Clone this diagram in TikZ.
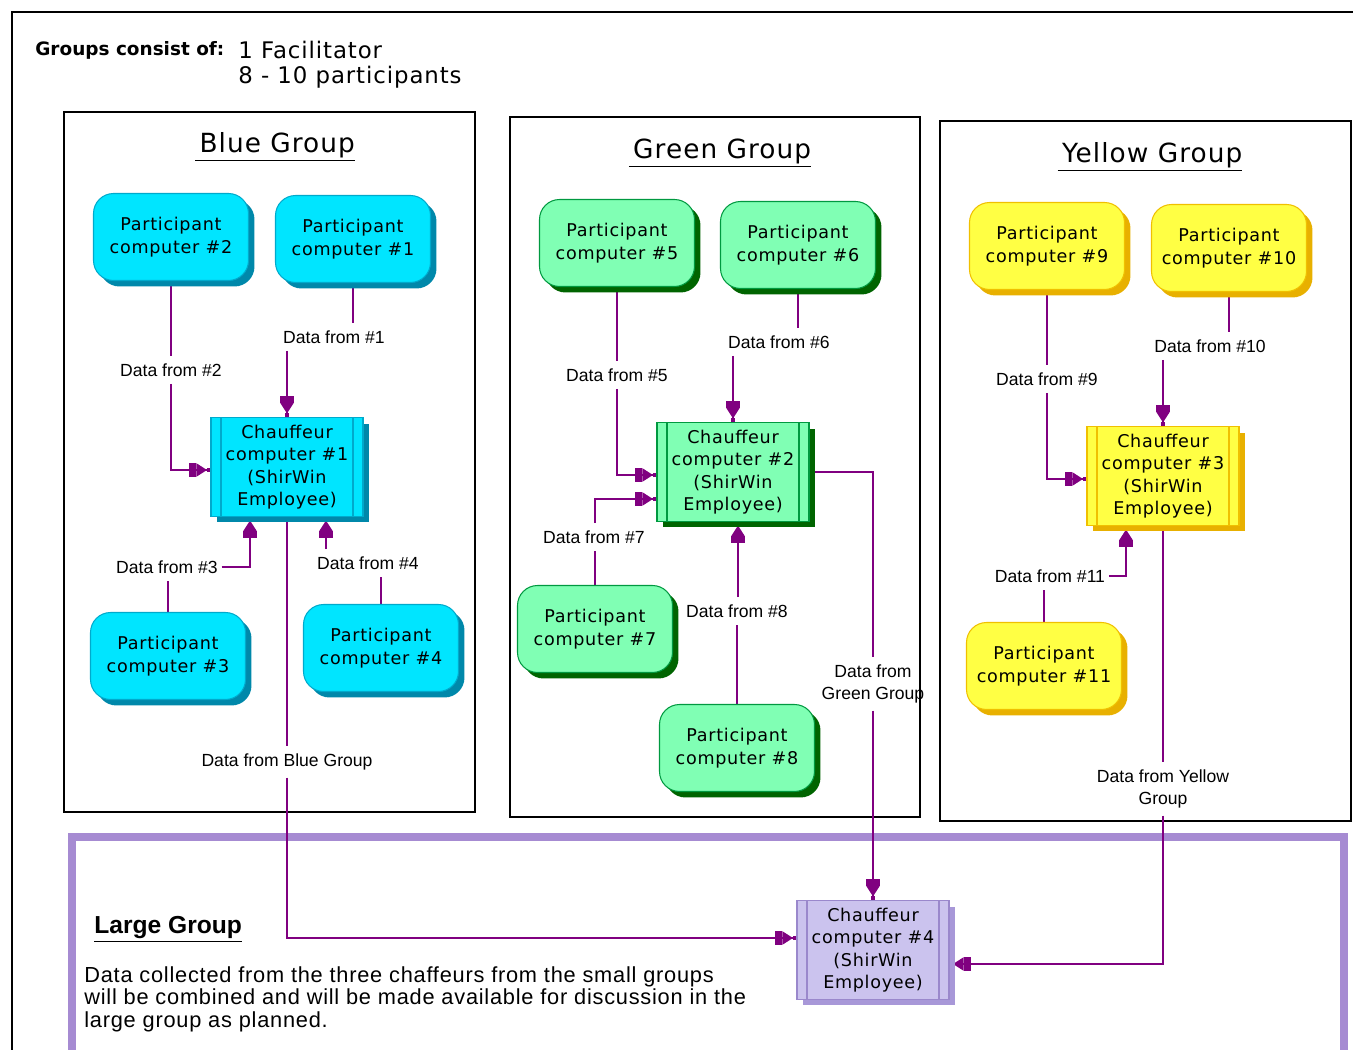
\documentclass[tikz,border=0pt]{standalone}
\usepackage{fontspec}
\setmainfont{DejaVu Sans}
\newfontfamily\boxfont[LetterSpace=4]{DejaVu Sans}
\newfontfamily\labfont{Liberation Sans}
\newfontfamily\parfont[LetterSpace=3.5]{Liberation Sans}
\usetikzlibrary{arrows.meta,shadows,backgrounds}
\definecolor{cblue}{HTML}{00E5FF}
\definecolor{cblueb}{HTML}{00AACC}
\definecolor{cblues}{HTML}{0088AA}
\definecolor{cgreen}{HTML}{80FFB4}
\definecolor{cgreenb}{HTML}{009940}
\definecolor{cgreens}{HTML}{006400}
\definecolor{cyel}{HTML}{FFFF44}
\definecolor{cyelb}{HTML}{F0C000}
\definecolor{cyels}{HTML}{E8B000}
\definecolor{cpur}{HTML}{CBC3EE}
\definecolor{cpurb}{HTML}{9A88CC}
\definecolor{cpurs}{HTML}{A898D8}
\definecolor{large}{HTML}{A68BD2}
\definecolor{wire}{HTML}{800080}
\begin{document}
\begin{tikzpicture}[x=0.02cm,y=-0.02cm,
  part/.style n args={3}{rounded corners=0.4cm, draw=#2, fill=#1, line width=0.6pt,
    minimum width=3.1cm, minimum height=1.74cm, align=center,
    font=\boxfont\fontsize{10}{13}\selectfont,
    drop shadow={shadow xshift=0.12cm, shadow yshift=-0.12cm, fill=#3, opacity=1}},
  chauf/.style n args={3}{rectangle, draw=#2, fill=#1, line width=0.6pt,
    minimum width=3.04cm, minimum height=1.98cm, align=center,
    font=\boxfont\fontsize{10}{12.8}\selectfont,
    drop shadow={shadow xshift=0.12cm, shadow yshift=-0.12cm, fill=#3, opacity=1},
    path picture={\draw[#2,line width=0.6pt]
      ([xshift=0.2cm]path picture bounding box.north west) -- ([xshift=0.2cm]path picture bounding box.south west)
      ([xshift=-0.2cm]path picture bounding box.north east) -- ([xshift=-0.2cm]path picture bounding box.south east);}},
  pblue/.style={part={cblue}{cblueb}{cblues}},
  pgreen/.style={part={cgreen}{cgreenb}{cgreens}},
  pyel/.style={part={cyel}{cyelb}{cyels}},
  cblueS/.style={chauf={cblue}{cblueb}{cblues}},
  cgreenS/.style={chauf={cgreen}{cgreenb}{cgreens}},
  cyelS/.style={chauf={cyel}{cyelb}{cyels}},
  cpurS/.style={chauf={cpur}{cpurb}{cpurs}},
  lbl/.style={align=center, inner xsep=2pt, inner ysep=4pt, font=\labfont\fontsize{10}{12.5}\selectfont},
  gtitle/.style={font=\boxfont\fontsize{15}{18}\selectfont},
  frame/.style={draw=black, line width=0.8pt},
  conn/.style={draw=wire, line width=0.75pt},
  arr/.style={conn, -{Rectangle[length=4pt,width=7.5pt,sep=0pt]Triangle[length=6pt,width=7.5pt,sep=0pt]Rectangle[length=2pt,width=1.8pt,sep=0pt]}}
]
\useasboundingbox (0,0) rectangle (1353,1050);
\begin{scope}[on background layer]
  \fill[white] (0,0) rectangle (1353,1050);
  \draw[line width=1.2pt] (12,1060) -- (12,12) -- (1360,12);
  \draw[frame] (64,112) rectangle (475,812);
  \draw[frame] (510,117) rectangle (920,817);
  \draw[frame] (940,121) rectangle (1351,821);
  \draw[draw=large, line width=4.5pt] (72,1080) -- (72,837) -- (1344,837) -- (1344,1080);
\end{scope}

% header
\node[anchor=west, font=\bfseries\fontsize{10.5}{12}\selectfont, inner sep=0pt] (hdr) at (35,50) {Groups consist of:};
\node[anchor=west, font=\boxfont\fontsize{13}{15}\selectfont, inner sep=0pt] (fac) at (238,50) {1 Facilitator};
\node[anchor=west, font=\boxfont\fontsize{13}{15}\selectfont, inner sep=0pt] (par) at (238,77) {8 - 10 participants};

% titles
\node[gtitle] (tb) at (275,147) {\underline{\,Blue Group}};
\node[gtitle] (tg) at (720,153) {\underline{\,Green Group}};
\node[gtitle] (ty) at (1150,157) {\underline{\,Yellow Group}};

% blue group
\node[pblue] (p2) at (171,237) {Participant\\computer \#2};
\node[pblue] (p1) at (353,239) {Participant\\computer \#1};
\node[cblueS] (c1) at (287,467) {Chauffeur\\computer \#1\\(ShirWin\\Employee)};
\node[pblue] (p3) at (168,656) {Participant\\computer \#3};
\node[pblue] (p4) at (381,648) {Participant\\computer \#4};

% green group
\node[pgreen] (p5) at (617,243) {Participant\\computer \#5};
\node[pgreen] (p6) at (798,245) {Participant\\computer \#6};
\node[cgreenS] (c2) at (733,472) {Chauffeur\\computer \#2\\(ShirWin\\Employee)};
\node[pgreen] (p7) at (595,629) {Participant\\computer \#7};
\node[pgreen] (p8) at (737,748) {Participant\\computer \#8};

% yellow group
\node[pyel] (p9) at (1047,246) {Participant\\computer \#9};
\node[pyel] (p10) at (1229,248) {Participant\\computer \#10};
\node[cyelS] (c3) at (1163,476) {Chauffeur\\computer \#3\\(ShirWin\\Employee)};
\node[pyel] (p11) at (1044,666) {Participant\\computer \#11};

% large group
\node[cpurS] (c4) at (873,950) {Chauffeur\\computer \#4\\(ShirWin\\Employee)};
\node[anchor=west, inner sep=0pt, font=\labfont\bfseries\fontsize{14}{17}\selectfont] (lg) at (94,929) {\underline{Large Group}};
\node[anchor=north west, inner sep=0pt, align=left, font=\parfont\fontsize{12.4}{12.8}\selectfont] (txt) at (84,966)
  {Data collected from the three chaffeurs from the small groups\\will be combined and will be made available for discussion in the\\large group as planned.};

% labels
\node[lbl] (d1) at (334,337) {Data from \#1};
\node[lbl] (d2) at (171,370) {Data from \#2};
\node[lbl] (d3) at (167,567) {Data from \#3};
\node[lbl] (d4) at (368,563) {Data from \#4};
\node[lbl] (dB) at (287,762) {Data from Blue Group};
\node[lbl] (d5) at (617,375) {Data from \#5};
\node[lbl] (d6) at (779,342) {Data from \#6};
\node[lbl] (d7) at (594,537) {Data from \#7};
\node[lbl] (d8) at (737,611) {Data from \#8};
\node[lbl] (dG) at (873,684) {Data from\\Green Group};
\node[lbl] (d9) at (1047,379) {Data from \#9};
\node[lbl] (d10) at (1210,346) {Data from \#10};
\node[lbl] (d11) at (1050,576) {Data from \#11};
\node[lbl] (dY) at (1163,789) {Data from Yellow\\Group};

\coordinate (c1s3) at ([xshift=-0.74cm]c1.south);
\coordinate (c1s4) at ([xshift=0.78cm]c1.south);
\coordinate (c2s) at ([xshift=0.1cm]c2.south);
\coordinate (c3s) at ([xshift=-0.74cm]c3.south);

\begin{scope}[on background layer]
  % blue
  \draw[conn] (p1.south) -- (p1.south |- d1.north);
  \draw[arr] (d1.south -| c1.north) -- (c1.north);
  \draw[conn] (p2.south) -- (d2.north);
  \draw[arr] (d2.south) |- ([yshift=-0.06cm]c1.west);
  \draw[conn] (p3.north) -- (p3.north |- d3.south);
  \draw[arr] (d3.east) -| (c1s3);
  \draw[conn] (p4.north) -- (p4.north |- d4.south);
  \draw[arr] (d4.north -| c1s4) -- (c1s4);
  \draw[conn] (c1.south) -- (dB.north);
  \draw[arr] (dB.south) |- ([yshift=0.24cm]c4.west);
  % green
  \draw[conn] (p5.south) -- (d5.north);
  \draw[arr] (d5.south) |- ([yshift=-0.06cm]c2.west);
  \draw[conn] (p6.south) -- (p6.south |- d6.north);
  \draw[arr] (d6.south -| c2.north) -- (c2.north);
  \draw[conn] (p7.north) -- (p7.north |- d7.south);
  \draw[arr] (p7.north |- d7.north) |- ([yshift=-0.54cm]c2.west);
  \draw[conn] (p8.north) -- (p8.north |- d8.south);
  \draw[arr] (d8.north -| c2s) -- (c2s);
  \draw[conn] (c2.east) -| (dG.north);
  \draw[arr] (dG.south) -- (c4.north);
  % yellow
  \draw[conn] (p9.south) -- (d9.north);
  \draw[arr] (d9.south) |- ([yshift=-0.06cm]c3.west);
  \draw[conn] (p10.south) -- (p10.south |- d10.north);
  \draw[arr] (d10.south -| c3.north) -- (c3.north);
  \draw[conn] (p11.north) -- (p11.north |- d11.south);
  \draw[arr] (d11.east) -| (c3s);
  \draw[conn] (c3.south) -- (dY.north);
  \draw[arr] (dY.south) |- ([yshift=-0.28cm]c4.east);
\end{scope}
\end{tikzpicture}
\end{document}
